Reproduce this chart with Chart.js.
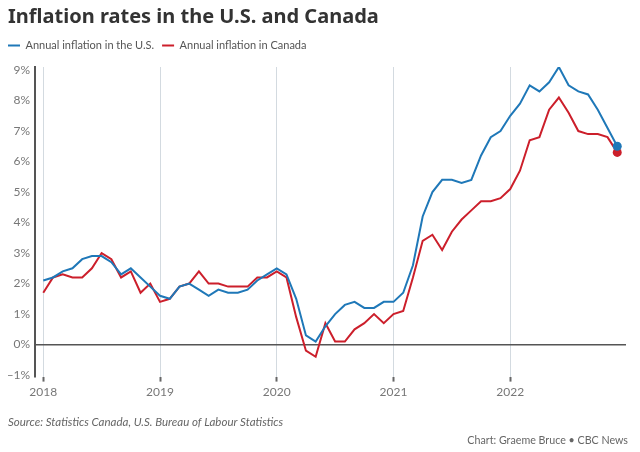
<!DOCTYPE html>
<html>
<head>
<meta charset="utf-8">
<script src="https://cdn.jsdelivr.net/npm/chart.js@4"></script>
<style>
  html, body { margin: 0; padding: 0; background: #fff; }
  #wrap { width: 640px; height: 452px; position: relative; }
</style>
</head>
<body>
<div id="wrap"><canvas id="InflationChart" width="640" height="452"></canvas></div>
<script>
// monthly, Jan 2018 .. Dec 2022
var years = ["2018", "2019", "2020", "2021", "2022"];
var usValues = [
  2.1, 2.2, 2.4, 2.5, 2.8, 2.9, 2.9, 2.7, 2.3, 2.5, 2.2, 1.9,
  1.6, 1.5, 1.9, 2.0, 1.8, 1.6, 1.8, 1.7, 1.7, 1.8, 2.1, 2.3,
  2.5, 2.3, 1.5, 0.3, 0.1, 0.6, 1.0, 1.3, 1.4, 1.2, 1.2, 1.4,
  1.4, 1.7, 2.6, 4.2, 5.0, 5.4, 5.4, 5.3, 5.4, 6.2, 6.8, 7.0,
  7.5, 7.9, 8.5, 8.3, 8.6, 9.1, 8.5, 8.3, 8.2, 7.7, 7.1, 6.5
];
var canadaValues = [
  1.7, 2.2, 2.3, 2.2, 2.2, 2.5, 3.0, 2.8, 2.2, 2.4, 1.7, 2.0,
  1.4, 1.5, 1.9, 2.0, 2.4, 2.0, 2.0, 1.9, 1.9, 1.9, 2.2, 2.2,
  2.4, 2.2, 0.9, -0.2, -0.4, 0.7, 0.1, 0.1, 0.5, 0.7, 1.0, 0.7,
  1.0, 1.1, 2.2, 3.4, 3.6, 3.1, 3.7, 4.1, 4.4, 4.7, 4.7, 4.8,
  5.1, 5.7, 6.7, 6.8, 7.7, 8.1, 7.6, 7.0, 6.9, 6.9, 6.8, 6.3
];
var yTicks = [-1, 0, 1, 2, 3, 4, 5, 6, 7, 8, 9];
var seriesNames = ["Annual inflation in the U.S.", "Annual inflation in Canada"];
var blue = "#1f78b8";
var red = "#cc1f2b";
var fontFam = "Lato, 'Noto Sans', sans-serif";

function toPoints(arr) {
  return arr.map(function (v, i) { return { x: i, y: v }; });
}

function lastDot(arr) {
  return function (ctx) { return ctx.dataIndex === arr.length - 1 ? 4.5 : 0; };
}

// footer texts + small legend tweaks
var extras = {
  id: "extras",
  beforeInit: function (chart) {
    var lg = chart.legend;
    if (!lg) return;
    var f = lg.fit;
    lg.fit = function () { f.call(lg); lg.height += 6; };
  },
  afterLayout: function (chart) {
    if (chart.legend) chart.legend.left = 0;
  },
  afterDraw: function (chart) {
    var c = chart.ctx;
    c.save();
    c.fillStyle = "#666";
    c.textBaseline = "middle";
    c.font = "italic 11.5px " + fontFam;
    c.textAlign = "left";
    c.fillText("Source: Statistics Canada, U.S. Bureau of Labour Statistics", 8, 422);
    c.font = "10.7px " + fontFam;
    c.textAlign = "right";
    c.fillText("Chart: Graeme Bruce \u2022 CBC News", 628, 441);
    c.restore();
  }
};

var configLine = {
  type: "line",
  data: {
    datasets: [{
      label: seriesNames[0],
      data: toPoints(usValues),
      borderColor: blue,
      backgroundColor: blue,
      borderWidth: 2,
      pointRadius: lastDot(usValues),
      pointBorderWidth: 0,
      tension: 0
    }, {
      label: seriesNames[1],
      data: toPoints(canadaValues),
      borderColor: red,
      backgroundColor: red,
      borderWidth: 2,
      pointRadius: lastDot(canadaValues),
      pointBorderWidth: 0,
      tension: 0
    }]
  },
  options: {
    responsive: false,
    animation: false,
    layout: { padding: { left: 8, right: 14, top: 0, bottom: 50 } },
    plugins: {
      tooltip: { enabled: false },
      title: {
        display: true,
        text: "Inflation rates in the U.S. and Canada",
        align: "start",
        color: "#333",
        font: { family: "'Noto Sans', sans-serif", size: 20, weight: "bold" },
        padding: { top: 5, bottom: 3 }
      },
      legend: {
        display: true,
        align: "start",
        labels: {
          color: "#555",
          font: { family: fontFam, size: 11 },
          boxWidth: 12,
          boxHeight: 2,
          padding: 8,
          generateLabels: function (chart) {
            return chart.data.datasets.map(function (ds, i) {
              return { text: ds.label, fillStyle: ds.borderColor, strokeStyle: ds.borderColor, lineWidth: 0, datasetIndex: i, fontColor: "#555" };
            });
          }
        }
      }
    },
    scales: {
      x: {
        type: "linear",
        min: -0.85,
        max: 59.9,
        afterBuildTicks: function (axis) {
          axis.ticks = years.map(function (y, i) { return { value: i * 12 }; });
        },
        ticks: {
          color: "#777",
          font: { family: fontFam, size: 12 },
          padding: 3,
          maxRotation: 0,
          callback: function (v) { return years[Math.round(v / 12)]; }
        },
        grid: {
          color: "#d3dae0",
          lineWidth: 1,
          drawTicks: true,
          tickLength: 5,
          tickColor: "#666",
          tickWidth: 2
        },
        border: { display: false }
      },
      y: {
        min: -1.05,
        max: 9.1,
        afterBuildTicks: function (axis) {
          axis.ticks = yTicks.map(function (v) { return { value: v }; });
        },
        afterFit: function (axis) { axis.width = 27; },
        ticks: {
          color: "#777",
          font: { family: fontFam, size: 12 },
          padding: 5,
          callback: function (v) { return (v < 0 ? "\u2212" + Math.abs(v) : v) + "%"; }
        },
        grid: {
          drawTicks: false,
          lineWidth: 1.5,
          color: function (ctx) { return ctx.tick && ctx.tick.value === 0 ? "#555" : "rgba(0,0,0,0)"; }
        },
        border: { display: true, color: "#555", width: 2 }
      }
    }
  },
  plugins: [extras]
};

new Chart(document.getElementById("InflationChart"), configLine);
</script>
</body>
</html>
